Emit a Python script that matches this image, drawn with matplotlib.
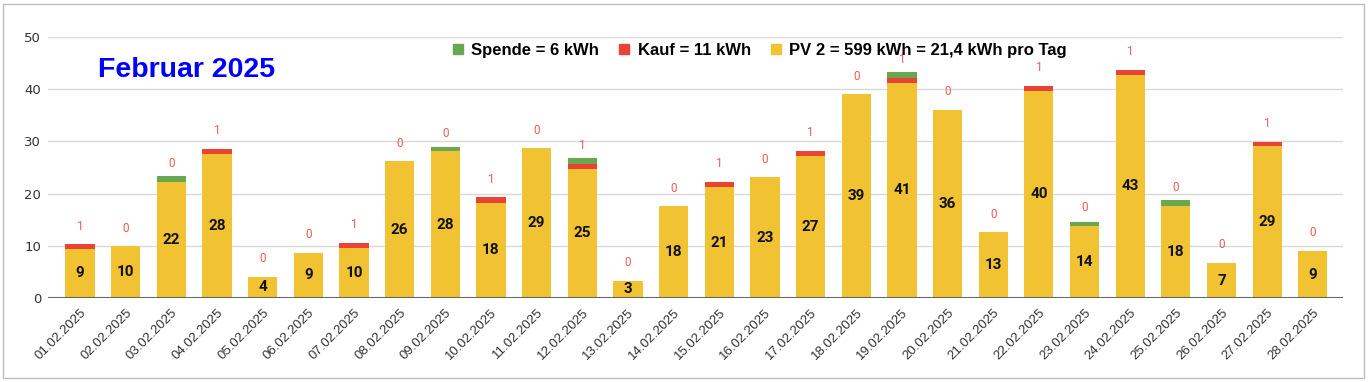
import numpy as np
import matplotlib.pyplot as plt
from matplotlib.lines import Line2D
from matplotlib.patches import Rectangle

days = ['%02d.02.2025' % d for d in range(1, 29)]

# PV-Ertrag pro Tag (kWh)
pv = np.array([
    9.4, 9.9, 22.3, 27.6, 4.1, 8.7, 9.6, 26.2, 28.1, 18.2,
    28.7, 24.8, 3.3, 17.6, 21.2, 23.1, 27.2, 39.0, 41.2, 36.1,
    12.6, 39.7, 13.8, 42.8, 17.7, 6.7, 29.1, 9.0
])
# Netzbezug (Kauf)
kauf = np.array([
    0.85, 0, 0, 1.0, 0, 0, 1.0, 0, 0, 1.1,
    0, 0.9, 0, 0, 1.1, 0, 1.0, 0, 1.0, 0,
    0, 1.0, 0, 0.9, 0, 0, 0.85, 0
])
# Spende
spende = np.array([
    0, 0, 1.0, 0, 0, 0, 0, 0, 0.9, 0,
    0, 1.1, 0, 0, 0, 0, 0, 0, 1.0, 0,
    0, 0, 0.8, 0, 1.0, 0, 0, 0
])

legend_labels = ['Spende = 6 kWh', 'Kauf = 11 kWh', 'PV 2 = 599 kWh = 21,4 kWh pro Tag']

c_yellow = '#f1c232'
c_red = '#ea4335'
c_green = '#6aa84f'

W, H = 1368, 382
fig = plt.figure(figsize=(W / 100, H / 100), dpi=100)
ax = fig.add_axes([48 / W, 84 / H, 1295 / W, 261 / H])

x = np.arange(len(days))
ax.bar(x, pv, width=0.64, color=c_yellow, zorder=2)
ax.bar(x, kauf, width=0.64, bottom=pv, color=c_red, zorder=2)
ax.bar(x, spende, width=0.64, bottom=pv + kauf, color=c_green, zorder=2)

for i in x:
    ax.text(i, pv[i] / 2, '%.0f' % pv[i], ha='center', va='center',
            fontsize=11, fontweight='bold', family='Roboto', color='#111', zorder=3)
    ax.annotate('%.0f' % kauf[i], (i, pv[i] + kauf[i]), xytext=(0, 13),
                textcoords='offset points', ha='center', va='center',
                fontsize=8.5, family='Roboto', color='#ee5a52', zorder=3)

ax.set_xlim(-0.7, 27.66)
ax.set_ylim(0, 50)
ax.set_yticks(np.arange(0, 51, 10))
ax.set_xticks(x)
ax.set_xticklabels(days, rotation=45, ha='right', rotation_mode='anchor',
                   fontsize=9.5, family='Liberation Sans', color='#333')
ax.tick_params(axis='y', length=0, pad=5, labelsize=9.5, labelcolor='#333')
ax.tick_params(axis='x', length=0, pad=6)
for s in ax.spines.values():
    s.set_visible(False)
ax.grid(axis='y', color='#d9d9d9', lw=1, zorder=0)
ax.axhline(0, color='#666', lw=1.5, zorder=3)

handles = [Line2D([], [], marker='s', ls='', color=c, markersize=7.5)
           for c in (c_green, c_red, c_yellow)]
ax.legend(handles, legend_labels, loc='center', bbox_to_anchor=(0.549, 0.95),
          ncol=3, frameon=False, handletextpad=0.4, columnspacing=1.1,
          handlelength=0.8, borderaxespad=0,
          prop={'family': 'Liberation Sans', 'weight': 'bold', 'size': 12})

fig.text(98 / W, 1 - 70 / H, 'Februar 2025', color='#0000ff', fontsize=20.5,
         fontweight='bold', family='Liberation Sans', va='center')

# Rahmen des Diagramms
fig.add_artist(Rectangle((3 / W, 4 / H), 1361 / W, 374 / H, transform=fig.transFigure,
                         fill=False, ec='#bdbdbd', lw=1))

fig.savefig('out.png', dpi=100)
